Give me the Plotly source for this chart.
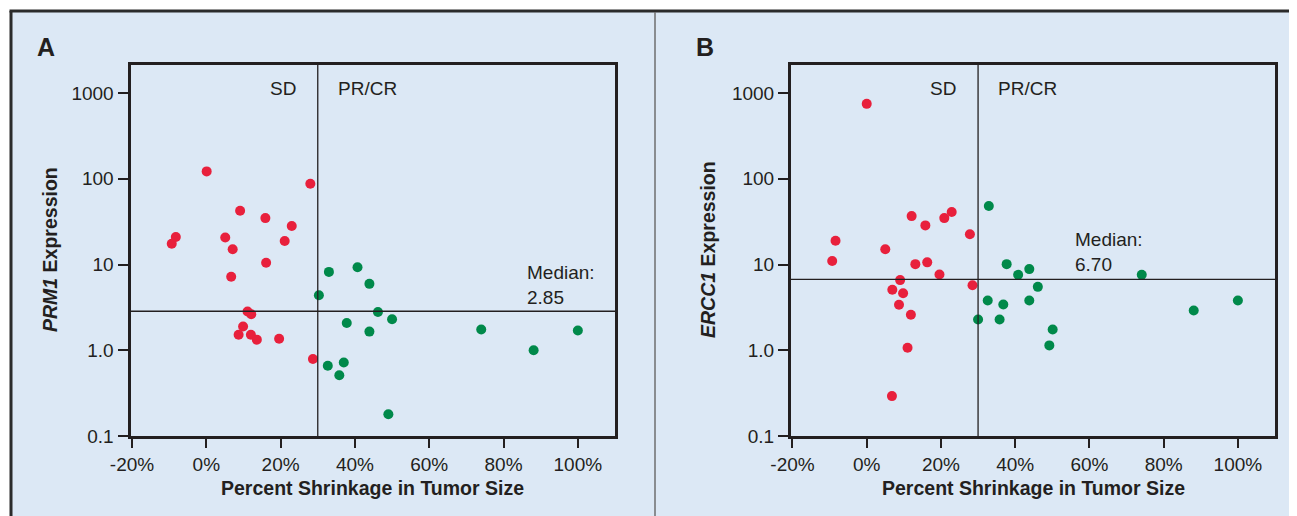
import plotly.graph_objects as go

# ---------------- data ----------------
# Panel A: PRM1
a_sd_x = [0.1, 28.0, 9.1, 15.9, 23.0, -8.2, -9.3, 5.1, 7.1, 21.1, 16.1, 6.7, 11.1, 12.1, 9.9, 8.7, 12.0, 13.6, 19.6, 28.7]
a_sd_y = [122, 87.7, 42.4, 34.8, 28.1, 20.9, 17.5, 20.7, 15.1, 18.8, 10.5, 7.2, 2.83, 2.63, 1.89, 1.52, 1.52, 1.33, 1.36, 0.79]
a_pr_x = [33.0, 40.7, 43.9, 30.3, 46.2, 50.0, 37.8, 43.9, 74.0, 100.0, 88.1, 32.7, 37.0, 35.8, 49.0]
a_pr_y = [8.2, 9.3, 5.95, 4.39, 2.80, 2.30, 2.08, 1.65, 1.75, 1.70, 1.0, 0.66, 0.72, 0.51, 0.179]
a_median = 2.85

# Panel B: ERCC1
b_sd_x = [0.0, -8.4, -9.3, 5.0, 12.1, 15.8, 20.9, 22.9, 27.8, 13.1, 16.3, 19.6, 28.5, 9.0, 6.9, 9.8, 8.7, 11.9, 11.0, 6.8]
b_sd_y = [748, 18.9, 11.0, 15.1, 36.7, 28.6, 34.8, 41.0, 22.5, 10.1, 10.6, 7.66, 5.74, 6.58, 5.07, 4.63, 3.39, 2.59, 1.07, 0.292]
b_pr_x = [32.9, 37.7, 40.8, 43.8, 46.1, 74.1, 32.6, 36.8, 43.8, 30.0, 35.8, 50.1, 49.2, 88.1, 100.0]
b_pr_y = [48.1, 10.1, 7.59, 8.84, 5.49, 7.59, 3.80, 3.42, 3.80, 2.28, 2.28, 1.75, 1.14, 2.91, 3.80]
b_median = 6.70

cutoff = 30
x_ticks = [-20, 0, 20, 40, 60, 80, 100]
x_tick_text = ["-20%", "0%", "20%", "40%", "60%", "80%", "100%"]
y_ticks = [0.1, 1, 10, 100, 1000]
y_tick_text = ["0.1", "1.0", "10", "100", "1000"]

# ---------------- styling ----------------
W, H = 1297, 516
OFF = 8  # page body margin offset
RED = "#e8203c"
GREEN = "#00894a"
DARK = "#231f20"
BG = "#dce8f5"
FONT = "Liberation Sans, Arial, Helvetica, sans-serif"

def px_x(p):
    return (p - OFF) / W

def px_y(p):
    return 1 - (p - OFF) / H

fig = go.Figure()

panels = [
    ("x", "y", a_sd_x, a_sd_y, a_pr_x, a_pr_y),
    ("x2", "y2", b_sd_x, b_sd_y, b_pr_x, b_pr_y),
]
for xa, ya, sx, sy, px_, py_ in panels:
    fig.add_trace(go.Scatter(x=sx, y=sy, mode="markers", xaxis=xa, yaxis=ya,
                             marker=dict(color=RED, size=10, line=dict(width=0)),
                             showlegend=False, hoverinfo="skip"))
    fig.add_trace(go.Scatter(x=px_, y=py_, mode="markers", xaxis=xa, yaxis=ya,
                             marker=dict(color=GREEN, size=10, line=dict(width=0)),
                             showlegend=False, hoverinfo="skip"))

y_top = 3 + (93 - 65) / 85.6

axis_common_x = dict(
    type="linear", range=[-20.4, 110], tickvals=x_ticks, ticktext=x_tick_text,
    ticks="outside", ticklen=9, tickwidth=2, tickcolor=DARK,
    showline=True, mirror=True, linecolor=DARK, linewidth=3,
    showgrid=False, zeroline=False, automargin=False,
    tickfont=dict(family=FONT, size=19, color=DARK),
)
axis_common_y = dict(
    type="log", range=[-1, y_top], tickvals=y_ticks, ticktext=y_tick_text,
    ticks="outside", ticklen=10, tickwidth=2, tickcolor=DARK,
    showline=True, mirror=True, linecolor=DARK, linewidth=3,
    showgrid=False, zeroline=False, automargin=False,
    tickfont=dict(family=FONT, size=19, color=DARK),
)

y_dom = [px_y(436), px_y(65)]
fig.update_layout(
    width=W, height=H, autosize=False,
    margin=dict(l=0, r=0, t=0, b=0, pad=0, autoexpand=False),
    paper_bgcolor="white",
    plot_bgcolor="white",
    font=dict(family=FONT, color=DARK),
    xaxis=dict(domain=[px_x(130.5), px_x(615)], anchor="y", **axis_common_x),
    yaxis=dict(domain=y_dom, anchor="x", **axis_common_y),
    xaxis2=dict(domain=[px_x(791), px_x(1275)], anchor="y2", **axis_common_x),
    yaxis2=dict(domain=y_dom, anchor="x2", **axis_common_y),
)

shapes = [
    # light blue panel background
    dict(type="rect", xref="paper", yref="paper", x0=px_x(11), x1=1.0, y0=0, y1=px_y(11),
         fillcolor=BG, line=dict(width=0), layer="below"),
    # top border
    dict(type="line", xref="paper", yref="paper", x0=px_x(9.5), x1=1.0, y0=px_y(11), y1=px_y(11),
         line=dict(color="#2b2b2b", width=3)),
    # left border
    dict(type="line", xref="paper", yref="paper", x0=px_x(11), x1=px_x(11), y0=0, y1=px_y(11),
         line=dict(color="#2b2b2b", width=3)),
    # divider
    dict(type="line", xref="paper", yref="paper", x0=px_x(655), x1=px_x(655), y0=0, y1=px_y(12),
         line=dict(color="#6e6e6e", width=1.5)),
]
for xa, ya, med in [("x", "y", a_median), ("x2", "y2", b_median)]:
    shapes.append(dict(type="line", xref=xa, yref=ya + " domain", x0=cutoff, x1=cutoff, y0=0, y1=1,
                       line=dict(color=DARK, width=1.3), layer="above"))
    shapes.append(dict(type="line", xref=xa + " domain", yref=ya, x0=0, x1=1,
                       y0=med, y1=med,
                       line=dict(color=DARK, width=1.3), layer="above"))
fig.update_layout(shapes=shapes)

ann = []
def text(x, y, s, size=19, bold=False, xanchor="center", yanchor="middle", textangle=0, align="left"):
    if bold:
        s = "<b>" + s + "</b>"
    ann.append(dict(xref="paper", yref="paper", x=px_x(x), y=px_y(y), text=s, showarrow=False,
                    xanchor=xanchor, yanchor=yanchor, textangle=textangle, align=align,
                    font=dict(family=FONT, size=size, color=DARK)))

# panel letters
text(46, 47, "A", size=25, bold=True)
text(705, 47, "B", size=25, bold=True)
# region labels
text(283, 88, "SD")
text(367, 88, "PR/CR")
text(943, 88, "SD")
text(1027, 88, "PR/CR")
# median labels
text(525, 285, "Median:<br>2.85", xanchor="left")
text(1073, 252, "Median:<br>6.70", xanchor="left")
# axis titles
text(372, 488, "Percent Shrinkage in Tumor Size", size=19.5, bold=True)
text(1033, 488, "Percent Shrinkage in Tumor Size", size=19.5, bold=True)
text(50, 250, "<i>PRM1</i> Expression", size=19.5, bold=True, textangle=-90)
text(708, 250, "<i>ERCC1</i> Expression", size=19.5, bold=True, textangle=-90)
fig.update_layout(annotations=ann)

fig.write_html("out.html")
